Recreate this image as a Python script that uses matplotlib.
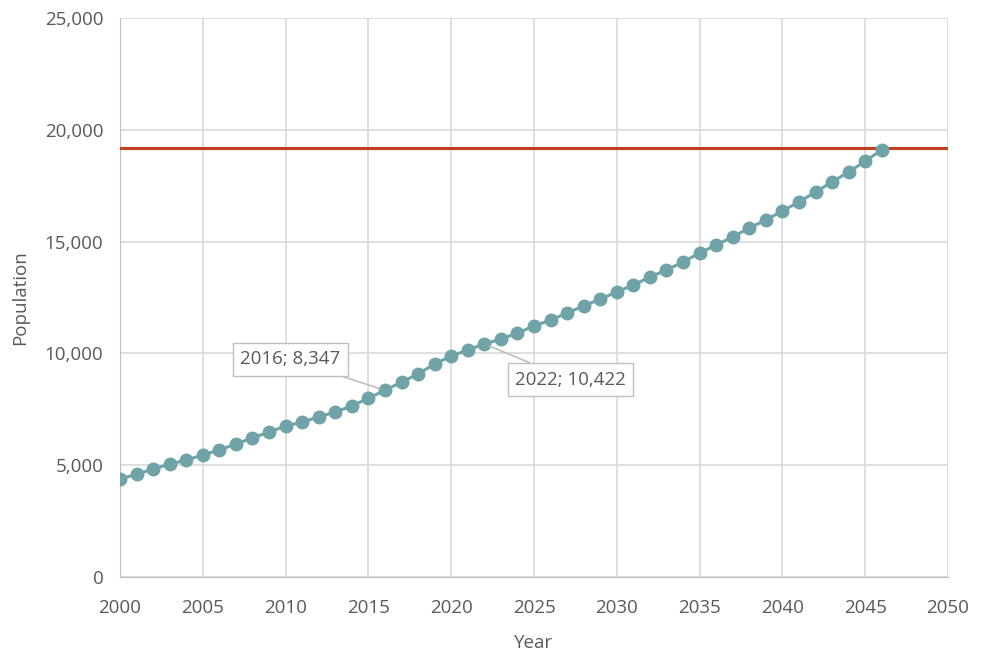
import matplotlib
matplotlib.use("Agg")
import matplotlib.pyplot as plt
from matplotlib.ticker import FuncFormatter, MultipleLocator

years = list(range(2000, 2047))
population = [4380, 4600, 4830, 5050, 5230, 5460, 5680, 5950, 6220, 6480,
              6750, 6930, 7160, 7380, 7650, 8000, 8347, 8720, 9080, 9530,
              9880, 10150, 10422, 10640, 10910, 11230, 11490, 11810, 12120, 12430,
              12750, 13060, 13420, 13730, 14090, 14490, 14850, 15210, 15610, 15970,
              16370, 16770, 17220, 17670, 18110, 18600, 19100]
capacity = 19180
annotated = [(2016, 8347), (2022, 10422)]
label_pos = [(2010.3, 9730), (2027.2, 8830)]

plt.rcParams['font.family'] = ['Open Sans', 'DejaVu Sans']

fig = plt.figure(figsize=(9.87, 6.54), dpi=100)
ax = fig.add_axes([0.1216, 0.1177, 0.8389, 0.8548])

grid_c = '#d9d9d9'
text_c = '#595959'
fs = 13.5

ax.set_xlim(2000, 2050)
ax.set_ylim(0, 25000)
ax.xaxis.set_major_locator(MultipleLocator(5))
ax.yaxis.set_major_locator(MultipleLocator(5000))
ax.yaxis.set_major_formatter(FuncFormatter(lambda v, p: f"{int(v):,}"))
ax.grid(True, color=grid_c, linewidth=1.2)
ax.set_axisbelow(True)
for s in ax.spines.values():
    s.set_visible(False)
ax.spines['left'].set_visible(True)
ax.spines['bottom'].set_visible(True)
ax.spines['left'].set_color('#bfbfbf')
ax.spines['bottom'].set_color('#bfbfbf')
ax.tick_params(axis='both', length=0, labelsize=fs, labelcolor=text_c)
ax.tick_params(axis='x', pad=16)
ax.tick_params(axis='y', pad=12)

ax.axhline(capacity, color='#c0401f', linewidth=2.2, zorder=3)
ax.plot(years, population, color='#6fa3a7', linewidth=2.2, marker='o',
        markersize=9, markerfacecolor='#6fa3a7', markeredgecolor='#6fa3a7', zorder=4)

for (x, y), (tx, ty) in zip(annotated, label_pos):
    ax.annotate(f"{x}; {y:,}", xy=(x, y), xytext=(tx, ty), ha='center', va='center',
                fontsize=fs, color=text_c,
                bbox=dict(boxstyle='square,pad=0.4', fc='white', ec='#bfbfbf', lw=1),
                arrowprops=dict(arrowstyle='-', color='#bfbfbf', lw=1.2, shrinkA=0, shrinkB=4),
                zorder=5)

ax.set_xlabel('Year', fontsize=fs, color=text_c, labelpad=12)
ax.set_ylabel('Population', fontsize=fs, color=text_c, labelpad=11)

fig.savefig('out.png', dpi=100)
